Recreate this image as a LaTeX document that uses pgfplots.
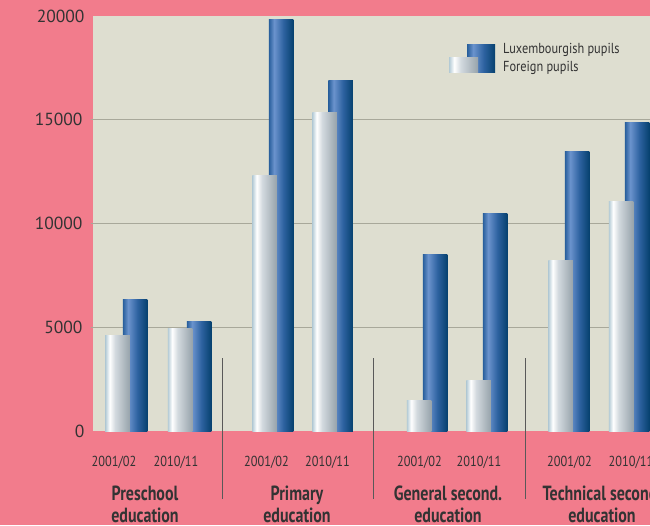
\documentclass[border=0pt]{standalone}
\usepackage{pgfplots}
\pgfplotsset{compat=1.18}
\usepackage{fontspec}
\setmainfont{PT Sans}
\newfontfamily\cond[FakeStretch=0.85]{PT Sans}
\newfontfamily\condb[FakeStretch=0.78]{PT Sans Bold}

\definecolor{bgpink}{HTML}{F27C8C}
\definecolor{plotbg}{HTML}{DEDED0}
\definecolor{gridc}{HTML}{A8A89A}
\definecolor{txt}{HTML}{333333}
\definecolor{fa}{HTML}{B3CAD5}
\definecolor{fb}{HTML}{FFFFFF}
\definecolor{fc}{HTML}{D3DADF}
\definecolor{fd}{HTML}{97A3AB}
\definecolor{la}{HTML}{275E9B}
\definecolor{lb}{HTML}{6B93CD}
\definecolor{lc}{HTML}{2D62A0}
\definecolor{ld}{HTML}{06416F}

\pgfdeclarehorizontalshading{forsh}{100bp}{color(0bp)=(fa); color(25bp)=(fa); color(34bp)=(fb); color(45bp)=(fc); color(75bp)=(fd); color(100bp)=(fd)}
\pgfdeclarehorizontalshading{luxsh}{100bp}{color(0bp)=(la); color(25bp)=(la); color(36bp)=(lb); color(55bp)=(lc); color(75bp)=(ld); color(100bp)=(ld)}

\begin{document}
\begin{tikzpicture}[x=1pt,y=1pt]
\fill[bgpink] (0,0) rectangle (650,525);
\begin{axis}[
  at={(93pt,94pt)}, anchor=south west,
  scale only axis, width=557pt, height=415pt,
  xmin=93, xmax=650, ymin=0, ymax=20000,
  axis background/.style={fill=plotbg},
  axis lines*=left, axis line style={draw=none},
  scaled y ticks=false,
  ytick={5000,10000,15000},
  extra y ticks={0,20000},
  extra y tick style={grid=none, major tick length=0pt},
  ymajorgrids, grid style={gridc, line width=1pt},
  xtick={114,176,266.5,327.5,419.5,479,569.5,631},
  xticklabels={2001/02,2010/11,2001/02,2010/11,2001/02,2010/11,2001/02,2010/11},
  x tick style={draw=none},
  y tick style={gridc, line width=1pt},
  major tick length=2pt, tick align=outside,
  yticklabel style={font=\fontsize{17.5}{18}\selectfont, text=txt, xshift=-5pt},
  xticklabel style={font=\cond\fontsize{14.5}{15}\selectfont, text=txt, yshift=-20pt},
  /pgf/number format/assume math mode=true,
  /pgf/number format/1000 sep={},
  ybar, bar width=24.5,
  lux/.style={draw=none, shade, shading=luxsh, bar shift=0pt},
  for/.style={draw=none, shade, shading=forsh, bar shift=0pt},
  clip=false,
]
% Luxembourgish pupils
\addplot[lux] coordinates {(135,6360)};
\addplot[lux] coordinates {(199,5300)};
\addplot[lux] coordinates {(281,19810)};
\addplot[lux] coordinates {(340.5,16870)};
\addplot[lux] coordinates {(435,8530)};
\addplot[lux] coordinates {(495,10460)};
\addplot[lux] coordinates {(577,13450)};
\addplot[lux] coordinates {(637,14890)};
% Foreign pupils
\addplot[for] coordinates {(117.5,4580)};
\addplot[for] coordinates {(180,4960)};
\addplot[for] coordinates {(264.5,12290)};
\addplot[for] coordinates {(324.5,15330)};
\addplot[for] coordinates {(419,1490)};
\addplot[for] coordinates {(478.5,2410)};
\addplot[for] coordinates {(560.5,8240)};
\addplot[for] coordinates {(621,11080)};
\end{axis}
% separators
\foreach \xx in {222,373,525} {
  \draw[color=black!65, line width=1pt] (\xx,167) -- (\xx,26);
}
% group labels
\begin{scope}[every node/.style={align=center, text=txt, font=\condb\fontsize{20.5}{22}\selectfont, inner sep=0pt}]
\node at (145,21) {Preschool\\education};
\node at (297,21) {Primary\\education};
\node at (448,21) {General second.\\education};
\node at (602,21) {Technical second.\\education};
\end{scope}
% legend
\shade[shading=luxsh] (467,452) rectangle (495,480);
\shade[shading=forsh] (449,452) rectangle (478,467);
\node[anchor=west, text=txt, font=\cond\fontsize{14.5}{15}\selectfont, inner sep=0pt] at (503,475) {Luxembourgish pupils};
\node[anchor=west, text=txt, font=\cond\fontsize{14.5}{15}\selectfont, inner sep=0pt] at (503,457) {Foreign pupils};
\pgfresetboundingbox
\path[use as bounding box] (0,0) rectangle (650,525);
\end{tikzpicture}
\end{document}
